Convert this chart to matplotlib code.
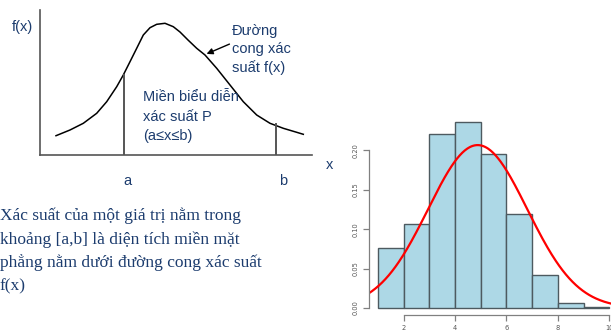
import numpy as np
import matplotlib.pyplot as plt

W, H = 611, 334

# ---- sơ đồ bên trái: điểm đọc trên đường cong (pixel, gốc ở góc trục) ----
curve_x = [16, 30, 43.3, 56.7, 66.7, 76.7, 83.3, 90, 96.7, 103.3, 110, 116.7, 125,
           133.3, 140, 148, 156.7, 165, 176.7, 190, 203.3, 216.7, 230, 243.3, 256.7, 263.3]
curve_y = [19.3, 25, 31.7, 41.7, 53.3, 68.3, 80, 93.3, 106.7, 120, 127.3, 130.7, 131.7,
           128.3, 123, 115, 106.7, 100, 86.7, 70, 53.3, 40, 31.7, 26.7, 22.7, 20.7]
a_pos, a_top = 84, 80
b_pos, b_top = 236, 31

# ---- histogram bên phải ----
bin_edges = [1, 2, 3, 4, 5, 6, 7, 8, 9, 10]
densities = [0.076, 0.1066, 0.2207, 0.236, 0.1953, 0.119, 0.0419, 0.0063, 0.0013]
mu, sigma = 4.88, 1.93
x_ticks = [2, 4, 6, 8, 10]
y_ticks = [0.00, 0.05, 0.10, 0.15, 0.20]

navy = "#1c3c6e"
sans = ["Liberation Sans", "DejaVu Sans"]
serif = ["Liberation Serif", "DejaVu Serif"]


def fx(px):
    return px / W


def fy(py):
    return 1 - py / H


fig = plt.figure(figsize=(W / 100, H / 100), dpi=100)

# ==== sơ đồ minh hoạ ====
ax1 = fig.add_axes([fx(40), fy(155), (312 - 40) / W, (155 - 10) / H])
ax1.set_xlim(0, 272)
ax1.set_ylim(0, 145)
for s in ["top", "right"]:
    ax1.spines[s].set_visible(False)
for s in ["left", "bottom"]:
    ax1.spines[s].set_color("#555555")
    ax1.spines[s].set_linewidth(1.2)
ax1.set_xticks([])
ax1.set_yticks([])
ax1.patch.set_alpha(0)
ax1.plot(curve_x, curve_y, color="black", lw=1.1, solid_joinstyle="round")
ax1.plot([a_pos, a_pos], [0, a_top], color="#555555", lw=1.4)
ax1.plot([b_pos, b_pos], [0, b_top], color="#555555", lw=1.4)
ax1.annotate("", xy=(164, 100), xytext=(192, 112),
             arrowprops=dict(arrowstyle="-|>", color="black", lw=1.0,
                             mutation_scale=9))

fs = 10.5
fig.text(fx(12), fy(27), "f(x)", family=sans, fontsize=fs, color=navy, va="center")
fig.text(fx(127), fy(181), "a", family=sans, fontsize=fs, color=navy, va="center", ha="center")
fig.text(fx(283), fy(181), "b", family=sans, fontsize=fs, color=navy, va="center", ha="center")
fig.text(fx(330), fy(165), "x", family=sans, fontsize=fs, color=navy, va="center", ha="center")
for i, line in enumerate(["Đường", "cong xác", "suất f(x)"]):
    fig.text(fx(232), fy(31 + 18.5 * i), line, family=sans, fontsize=fs, color=navy, va="center")
for i, line in enumerate(["Miền biểu diễn", "xác suất P", "(a≤x≤b)"]):
    fig.text(fx(143), fy(97 + 19.5 * i), line, family=sans, fontsize=fs, color=navy, va="center")

body = ["Xác suất của một giá trị nằm trong",
        "khoảng [a,b] là diện tích miền mặt",
        "phẳng nằm dưới đường cong xác suất",
        "f(x)"]
for i, line in enumerate(body):
    fig.text(fx(0), fy(216 + 23.5 * i), line, family=serif, fontsize=12.5, color=navy, va="center")

# ==== histogram ====
ax2 = fig.add_axes([fx(368.7), fy(315.4), (618.5 - 368.7) / W, (315.4 - 114.6) / H])
ax2.set_xlim(0.64, 10.36)
ax2.set_ylim(-0.00944, 0.2454)
ax2.patch.set_alpha(0)
lefts = bin_edges[:-1]
widths = np.diff(bin_edges)
ax2.bar(lefts, densities, width=widths, align="edge", color="#add8e6",
        edgecolor="#4d5a60", linewidth=1.0)
xs = np.linspace(0.64, 10.36, 300)
ax2.plot(xs, np.exp(-0.5 * ((xs - mu) / sigma) ** 2) / (sigma * np.sqrt(2 * np.pi)),
         color="red", lw=1.6)
for s in ["top", "right"]:
    ax2.spines[s].set_visible(False)
for s in ["left", "bottom"]:
    ax2.spines[s].set_color("#808080")
    ax2.spines[s].set_linewidth(0.9)
ax2.spines["left"].set_bounds(0, 0.20)
ax2.spines["bottom"].set_bounds(2, 10)
ax2.set_xticks(x_ticks)
ax2.set_yticks(y_ticks)
ax2.set_yticklabels([f"{v:.2f}" for v in y_ticks], rotation=90, va="center")
ax2.tick_params(colors="#808080", labelcolor="#555555", labelsize=4.8,
                length=4, width=0.9, pad=3)

fig.savefig("out.png", dpi=100)
